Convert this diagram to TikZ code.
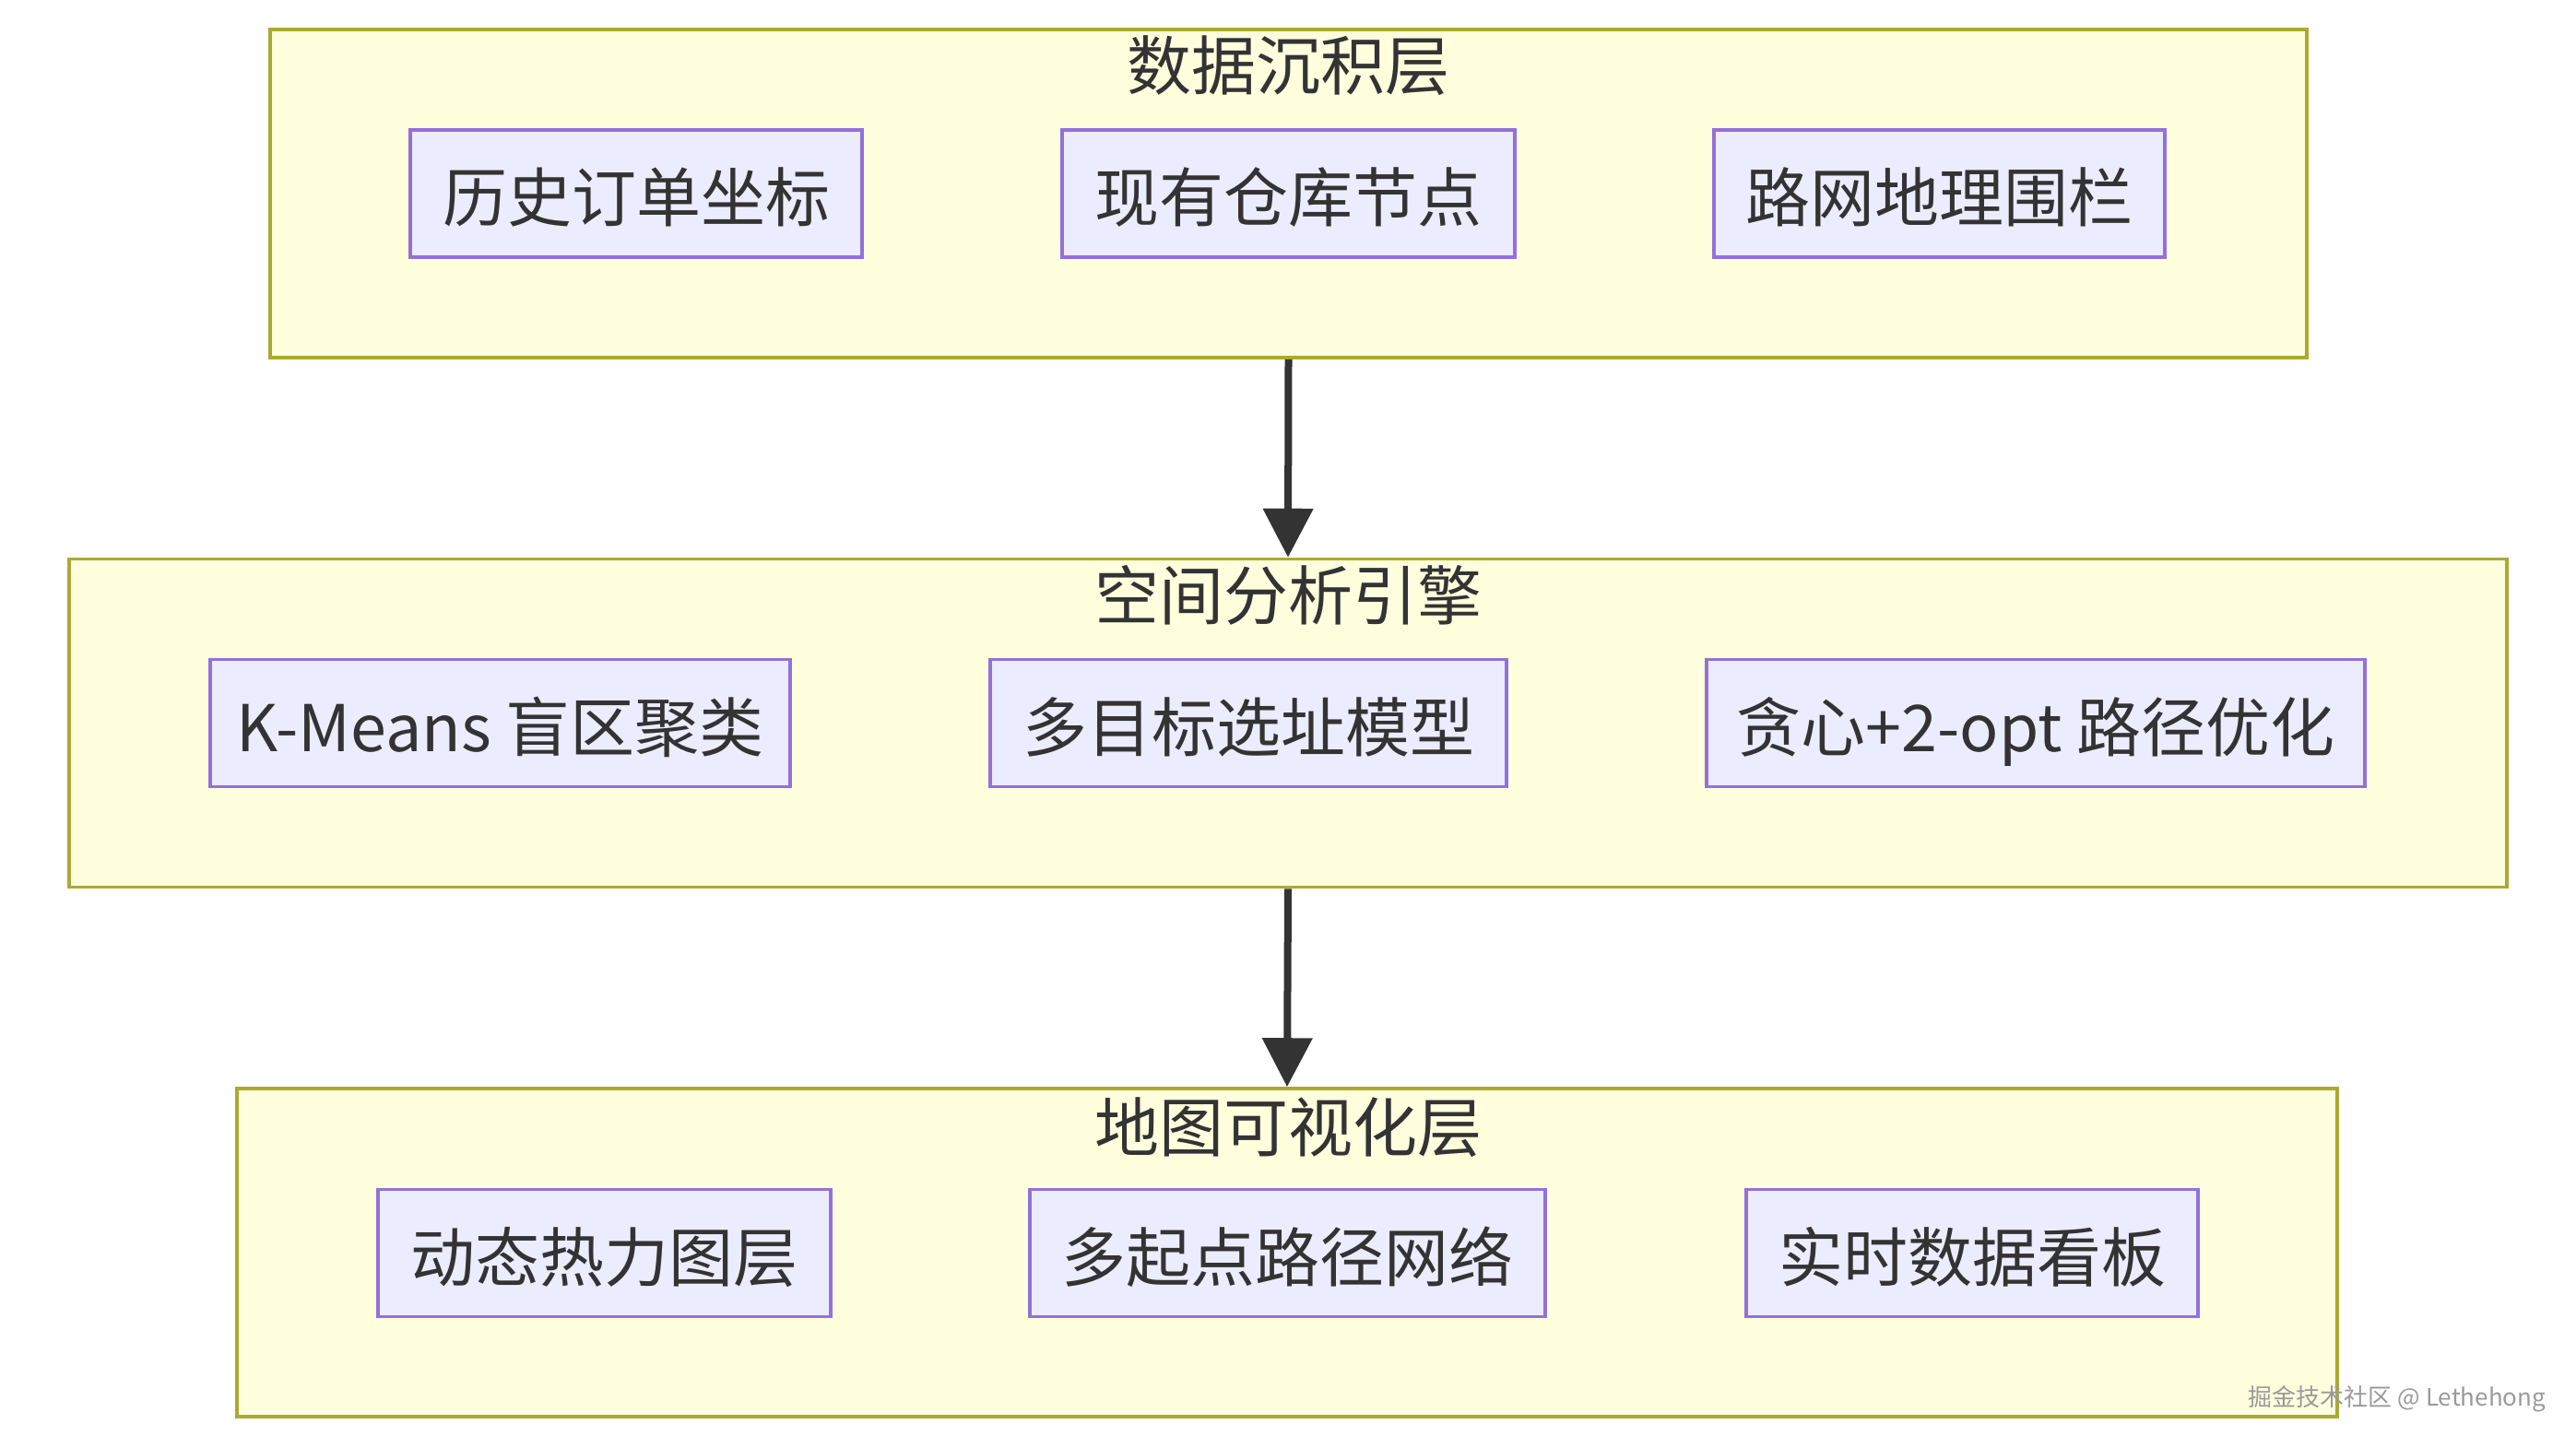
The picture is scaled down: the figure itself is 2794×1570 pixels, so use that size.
\documentclass[tikz,border=0pt]{standalone}
\usepackage{fontspec}
\setmainfont{Noto Sans CJK SC}
\usetikzlibrary{arrows.meta}
\definecolor{clfill}{HTML}{FFFFDE}
\definecolor{clline}{HTML}{AAAA33}
\definecolor{ndfill}{HTML}{ECECFF}
\definecolor{ndline}{HTML}{9370DB}
\definecolor{txt}{HTML}{333333}
\definecolor{wmark}{HTML}{9A9A9A}
\begin{document}
\begin{tikzpicture}[x=0.5pt,y=-0.5pt,
  cluster/.style={draw=clline, fill=clfill, line width=1.8pt, inner sep=0pt, minimum height=178pt},
  box/.style={draw=ndline, fill=ndfill, line width=1.8pt, inner sep=0pt, minimum height=69pt,
    font=\fontsize{35pt}{42pt}\selectfont, text=txt, text height=32.8pt, text depth=2.2pt},
  ttl/.style={inner sep=0pt, font=\fontsize{35pt}{42pt}\selectfont, text=txt, text height=30.8pt, text depth=4.2pt},
  flow/.style={draw=txt, line width=4pt, -{Triangle[length=26.5pt,width=26.5pt]}}]
\useasboundingbox (0,0) rectangle (2794,1570);
\fill[white] (0,0) rectangle (2794,1570);

% clusters
\node[cluster, minimum width=1104.5pt] (c1) at (1397.5,210) {};
\node[cluster, minimum width=1322pt] (c2) at (1397,784.5) {};
\node[cluster, minimum width=1139pt] (c3) at (1396,1359) {};

% titles
\node[ttl] (t1) at (1397,71) {数据沉积层};
\node[ttl] (t2) at (1397,646) {空间分析引擎};
\node[ttl] (t3) at (1397,1223) {地图可视化层};

% layer 1
\node[box, minimum width=245pt] (a1) at (690,210) {历史订单坐标};
\node[box, minimum width=245.5pt] (a2) at (1397.5,210) {现有仓库节点};
\node[box, minimum width=244.5pt] (a3) at (2103.5,210) {路网地理围栏};

% layer 2
\node[box, minimum width=314.5pt] (b1) at (542.5,784.5) {K-Means 盲区聚类};
\node[box, minimum width=280pt] (b2) at (1354,784.5) {多目标选址模型};
\node[box, minimum width=357pt] (b3) at (2208,784.5) {贪心+2-opt 路径优化};

% layer 3
\node[box, minimum width=245.5pt] (d1) at (655.5,1359.5) {动态热力图层};
\node[box, minimum width=279.5pt] (d2) at (1396.5,1359.5) {多起点路径网络};
\node[box, minimum width=245pt] (d3) at (2139,1359.5) {实时数据看板};

% connectors
\draw[flow] (c1.south) -- (c2.north);
\draw[flow] (c2.south) -- (c3.north);

% watermark
\node[inner sep=0pt, font=\fontsize{13pt}{16pt}\selectfont, text=wmark] (wm) at (2600,1518) {掘金技术社区 @ Lethehong};
\end{tikzpicture}
\end{document}
